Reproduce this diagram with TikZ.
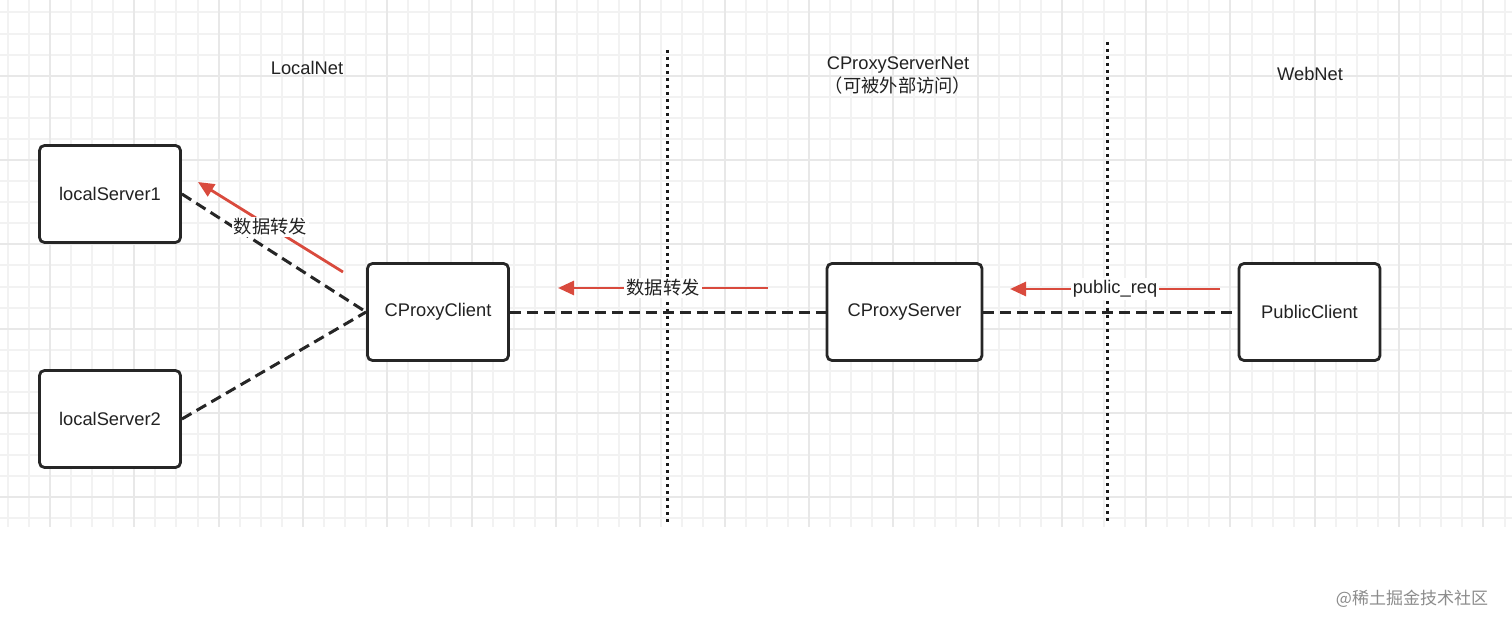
\documentclass[tikz,border=0pt]{standalone}
\usepackage{fontspec}
\setmainfont{Liberation Sans}
\newfontfamily\cjk{Noto Sans CJK SC}
\usetikzlibrary{arrows.meta,positioning,calc}
\definecolor{gridlt}{HTML}{F2F2F2}
\definecolor{griddk}{HTML}{E8E8E8}
\definecolor{fwdred}{HTML}{D94A3D}
\definecolor{boxline}{HTML}{262626}
\definecolor{ink}{HTML}{222222}
\newcommand\lblsize{\fontsize{18.3}{23}\selectfont}
\tikzset{
  srv/.style={draw=boxline,line width=2.8pt,rounded corners=5pt,fill=white,minimum width=141pt,minimum height=97pt,inner sep=0pt},
  link/.style={line width=3pt,dash pattern=on 11pt off 6pt,black!85},
  border/.style={line width=3pt,dash pattern=on 3pt off 4pt,black!90},
  fwd/.style={fwdred,line width=2.8pt,-{Triangle[length=16pt,width=14pt]}},
  tag/.style={fill=white,inner sep=2pt,text=ink},
}

\begin{document}
\begin{tikzpicture}[x=1pt,y=-1pt,font=\lblsize,text=ink]
\useasboundingbox (0,0) rectangle (1512,628);
\fill[white] (0,0) rectangle (1512,628);
\foreach \i in {-2,...,69} \draw[gridlt,line width=1.3pt] ({round(50+21.08*\i)},0) -- ({round(50+21.08*\i)},527);
\foreach \j in {-3,...,21} \draw[gridlt,line width=1.3pt] (0,{round(75.7+21.08*\j)}) -- (1512,{round(75.7+21.08*\j)});
\foreach \i in {0,...,17} \draw[griddk,line width=1.5pt] ({round(50+84.32*\i)},0) -- ({round(50+84.32*\i)},527);
\foreach \j in {0,...,5} \draw[griddk,line width=1.5pt] (0,{round(75.7+84.32*\j)}) -- (1512,{round(75.7+84.32*\j)});

\node (local) at (307,68) {LocalNet};
\node[align=center] (proxynet) at (898,75) {CProxyServerNet\\{\cjk （可被外部访问）}};
\node (web) at (1310,74) {WebNet};
\draw[border] (667,50) -- (667,522);
\draw[border] (1107,42) -- (1107,522);

\node[srv] (ls1) at (110,194) {localServer1};
\node[srv] (ls2) at (110,419) {localServer2};
\node[srv] (cli) at (438,312) {CProxyClient};
\node[srv,minimum width=155pt] (srv) at (904.5,312) {CProxyServer};
\node[srv] (pub) at (1309.5,312) {PublicClient};
\draw[link] (ls1.east) -- (cli.west);
\draw[link] (ls2.east) -- (cli.west);
\draw[link] (cli.east) -- (srv.west);
\draw[link] (srv.east) -- (pub.west);

\coordinate (f1s) at (343,272); \coordinate (f1e) at (198,182);
\coordinate (f2s) at (768,288); \coordinate (f2e) at (558,288);
\coordinate (f3s) at (1220,289); \coordinate (f3e) at (1010,289);
\draw[fwd] (f1s) -- (f1e) node[midway,tag,font=\cjk\lblsize] {数据转发};
\draw[fwd] (f2s) -- (f2e) node[midway,tag,font=\cjk\lblsize] {数据转发};
\draw[fwd] (f3s) -- (f3e) node[midway,tag] {public\_req};

\node[text=black!45,font=\cjk\fontsize{17}{17}\selectfont] (mark) at (1412,599) {@稀土掘金技术社区};
\end{tikzpicture}
\end{document}
